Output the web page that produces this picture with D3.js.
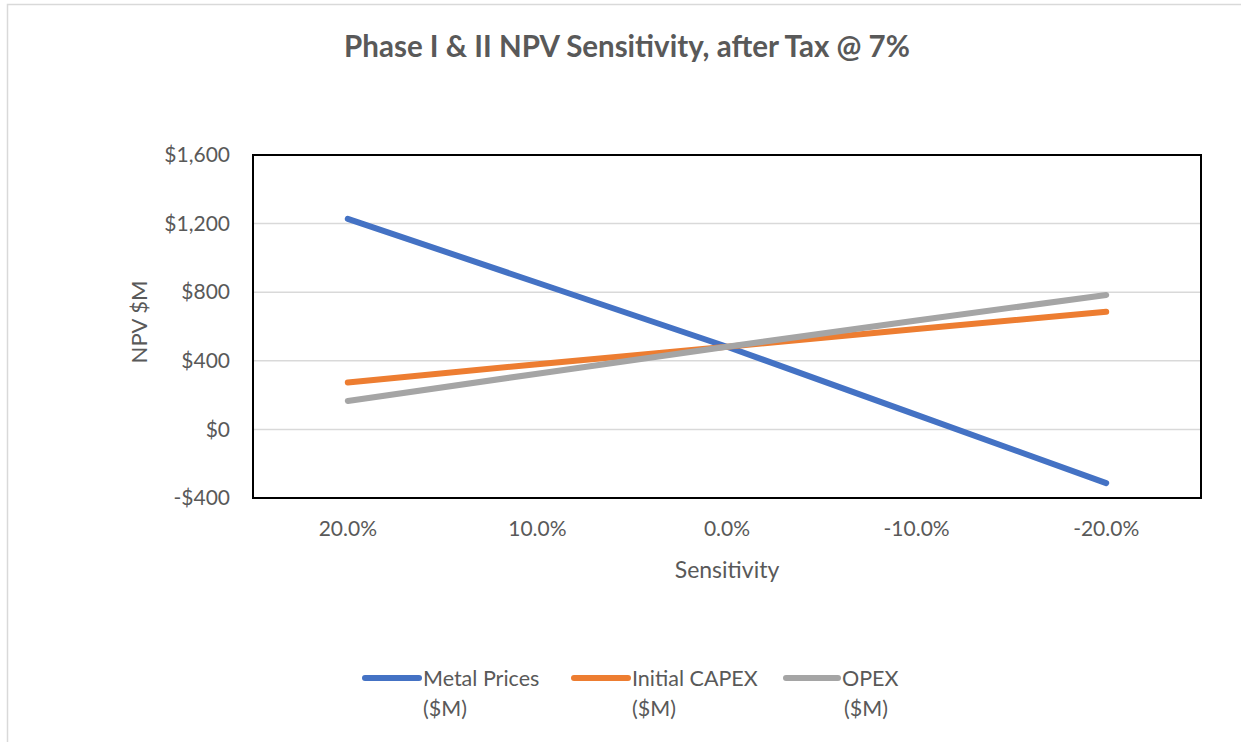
<!DOCTYPE html>
<html>
<head>
<meta charset="utf-8">
<script src="https://cdn.jsdelivr.net/npm/d3@7"></script>
<style>
  html, body { margin: 0; padding: 0; background: #fff; }
  svg { display: block; }
</style>
</head>
<body>
<svg id="chart" width="1241" height="742"></svg>
<script>
// Sensitivity cases (change applied to each driver)
const categories = ["20.0%", "10.0%", "0.0%", "-10.0%", "-20.0%"];

// NPV after tax @ 7%, $M
const metalPrices = [1228, 855, 482, 85, -313];
const initialCapex = [274, 380, 482, 585, 686];
const opex = [166, 325, 482, 635, 784];

const yTicks = [-400, 0, 400, 800, 1200, 1600];

const seriesNames = ["Metal Prices", "Initial CAPEX", "OPEX"];
const seriesUnits = ["($M)", "($M)", "($M)"];
const seriesColors = ["#4472C4", "#ED7D31", "#A5A5A5"];
const seriesValues = [metalPrices, initialCapex, opex];

const FONT = "Lato, 'Open Sans', sans-serif";
const TEXT = "#595959";

const svg = d3.select("#chart");

// outer chart frame
svg.append("rect")
  .attr("x", 7.5).attr("y", 4.5)
  .attr("width", 1245).attr("height", 750)
  .attr("fill", "#fff")
  .attr("stroke", "#d9d9d9").attr("stroke-width", 1.5);

const plot = { left: 253, right: 1201, top: 155, bottom: 498 };

const x = d3.scaleBand()
  .domain(categories)
  .range([plot.left, plot.right]);

const y = d3.scaleLinear()
  .domain([-400, 1600])
  .range([plot.bottom, plot.top]);

// title
svg.append("text")
  .attr("x", 627).attr("y", 57)
  .attr("text-anchor", "middle")
  .attr("font-family", FONT)
  .attr("font-weight", "bold")
  .attr("font-size", 29.5)
  .attr("fill", TEXT)
  .text("Phase I & II NPV Sensitivity, after Tax @ 7%");

// horizontal gridlines
svg.append("g")
  .selectAll("line")
  .data(yTicks.filter(d => d > -400 && d < 1600))
  .join("line")
  .attr("x1", plot.left).attr("x2", plot.right)
  .attr("y1", d => y(d)).attr("y2", d => y(d))
  .attr("stroke", "#d9d9d9").attr("stroke-width", 1.5);

// y axis labels
const fmtMoney = v => (v < 0 ? "-$" : "$") + d3.format(",")(Math.abs(v));
const yAxis = d3.axisLeft(y)
  .tickValues(yTicks)
  .tickFormat(fmtMoney)
  .tickSize(0)
  .tickPadding(23);
const gy = svg.append("g")
  .attr("transform", `translate(${plot.left},0)`)
  .call(yAxis);
gy.select(".domain").remove();
gy.selectAll("text")
  .attr("font-family", FONT)
  .attr("font-size", 21)
  .attr("fill", TEXT);

// x axis labels
const xAxis = d3.axisBottom(x).tickSize(0).tickPadding(23);
const gx = svg.append("g")
  .attr("transform", `translate(0,${plot.bottom})`)
  .call(xAxis);
gx.select(".domain").remove();
gx.selectAll("text")
  .attr("font-family", FONT)
  .attr("font-size", 21)
  .attr("fill", TEXT);

// axis titles
svg.append("text")
  .attr("x", 727).attr("y", 578)
  .attr("text-anchor", "middle")
  .attr("font-family", FONT)
  .attr("font-size", 23)
  .attr("fill", TEXT)
  .text("Sensitivity");

svg.append("text")
  .attr("transform", "translate(147,322) rotate(-90)")
  .attr("text-anchor", "middle")
  .attr("font-family", FONT)
  .attr("font-size", 22)
  .attr("fill", TEXT)
  .text("NPV $M");

// series lines
const line = d3.line()
  .x((d, i) => x(categories[i]) + x.bandwidth() / 2)
  .y(d => y(d));

svg.append("g")
  .selectAll("path")
  .data(seriesValues)
  .join("path")
  .attr("d", d => line(d))
  .attr("fill", "none")
  .attr("stroke", (d, i) => seriesColors[i])
  .attr("stroke-width", 6)
  .attr("stroke-linecap", "round")
  .attr("stroke-linejoin", "round");

// plot border
svg.append("rect")
  .attr("x", plot.left).attr("y", plot.top)
  .attr("width", plot.right - plot.left)
  .attr("height", plot.bottom - plot.top)
  .attr("fill", "none")
  .attr("stroke", "#000").attr("stroke-width", 2);

// legend
const legendX = [365, 574, 786];
const legend = svg.append("g")
  .selectAll("g")
  .data(seriesNames)
  .join("g")
  .attr("transform", (d, i) => `translate(${legendX[i]},0)`);

legend.append("line")
  .attr("x1", 0).attr("x2", (d, i) => i === 2 ? 52 : 54)
  .attr("y1", 678).attr("y2", 678)
  .attr("stroke", (d, i) => seriesColors[i])
  .attr("stroke-width", 6)
  .attr("stroke-linecap", "round");

legend.append("text")
  .attr("x", (d, i) => i === 2 ? 56 : 58).attr("y", 686)
  .attr("font-family", FONT)
  .attr("font-size", 21.5)
  .attr("fill", TEXT)
  .text(d => d);

legend.append("text")
  .attr("x", 58).attr("y", 716)
  .attr("font-family", FONT)
  .attr("font-size", 21.5)
  .attr("fill", TEXT)
  .text((d, i) => seriesUnits[i]);
</script>
</body>
</html>
